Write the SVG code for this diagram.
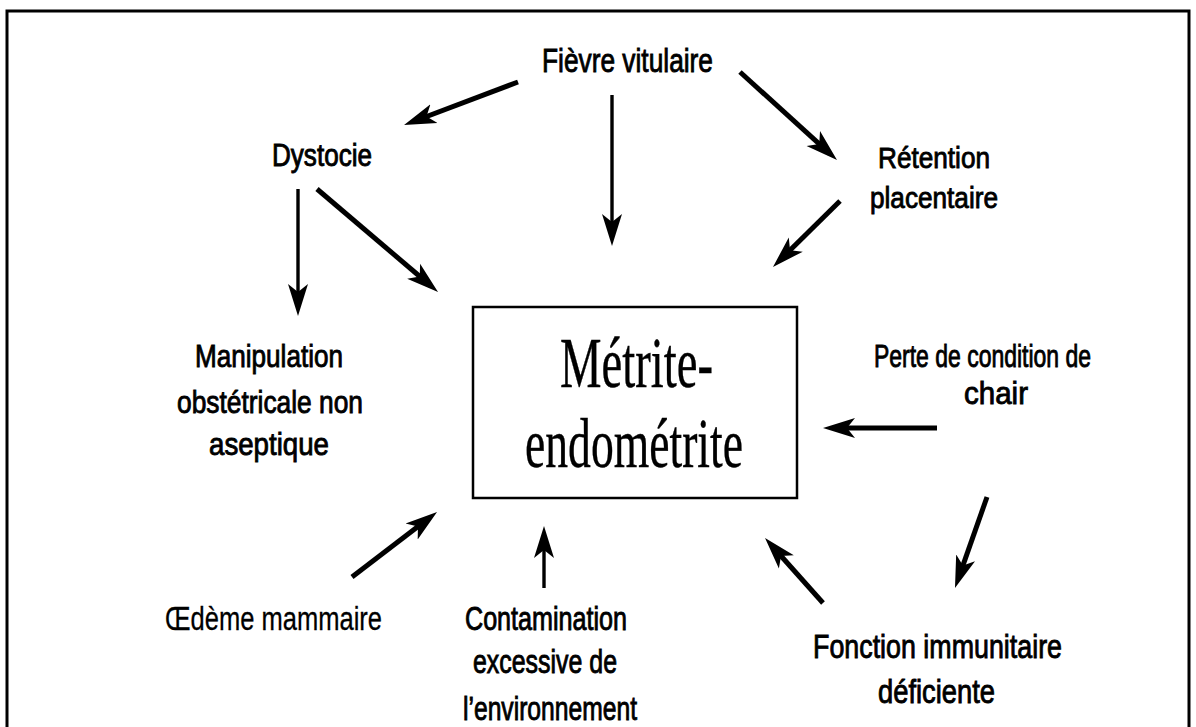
<svg xmlns="http://www.w3.org/2000/svg" width="1196" height="727" viewBox="0 0 1196 727">
<style>
.lbl{font-family:"Liberation Sans",Arial,sans-serif;fill:#000;stroke:#000;stroke-width:0.9}
.light{font-family:"Liberation Sans",Arial,sans-serif;fill:#000;stroke:#000;stroke-width:0.3}
.ser{font-family:"Liberation Serif","Times New Roman",serif;fill:#000;stroke:#000;stroke-width:0.4}
.arr{stroke:#000;stroke-width:5;fill:none;marker-end:url(#ah)}
.thin{stroke-width:3.4}
</style>
<defs>
<marker id="ah" viewBox="0 0 32 22" refX="22" refY="11" markerWidth="32" markerHeight="22" markerUnits="userSpaceOnUse" orient="auto">
<path d="M32,11 L0,1 L8,11 L0,21 Z" fill="#000"/>
</marker>
</defs>
<rect x="0" y="0" width="1196" height="727" fill="#fff"/>
<path d="M7,740 L7,11 L1189,11 L1189,740" fill="none" stroke="#000" stroke-width="3"/>

<g id="center">
<rect x="473" y="307" width="324" height="191" fill="#fff" stroke="#000" stroke-width="2.5"/>
<text class="ser" x="560" y="387" font-size="71" textLength="153" lengthAdjust="spacingAndGlyphs">Métrite-</text>
<text class="ser" x="525" y="467" font-size="69" textLength="218" lengthAdjust="spacingAndGlyphs">endométrite</text>
</g>
<g id="fievre"><text class="lbl" x="542" y="72" font-size="34" textLength="171" lengthAdjust="spacingAndGlyphs">Fièvre vitulaire</text></g>
<g id="dystocie"><text class="lbl" x="272" y="166" font-size="31" textLength="100" lengthAdjust="spacingAndGlyphs">Dystocie</text></g>
<g id="retention">
<text class="lbl" x="878" y="168" font-size="30" textLength="112" lengthAdjust="spacingAndGlyphs">Rétention</text>
<text class="lbl" x="870" y="208" font-size="30" textLength="128" lengthAdjust="spacingAndGlyphs">placentaire</text>
</g>
<g id="manipulation">
<text class="lbl" x="195" y="367" font-size="32" textLength="148" lengthAdjust="spacingAndGlyphs">Manipulation</text>
<text class="lbl" x="177" y="413" font-size="32" textLength="186" lengthAdjust="spacingAndGlyphs">obstétricale non</text>
<text class="lbl" x="209" y="455" font-size="32" textLength="120" lengthAdjust="spacingAndGlyphs">aseptique</text>
</g>
<g id="perte">
<text class="lbl" x="874" y="367" font-size="32" textLength="217" lengthAdjust="spacingAndGlyphs">Perte de condition de</text>
<text class="lbl" x="964" y="404" font-size="32" textLength="64" lengthAdjust="spacingAndGlyphs">chair</text>
</g>
<g id="oedeme"><text class="light" x="165" y="630" font-size="33" textLength="217" lengthAdjust="spacingAndGlyphs">Œdème mammaire</text></g>
<g id="contamination">
<text class="lbl" x="465" y="630" font-size="33" textLength="162" lengthAdjust="spacingAndGlyphs">Contamination</text>
<text class="lbl" x="473" y="673" font-size="33" textLength="144" lengthAdjust="spacingAndGlyphs">excessive de</text>
<text class="lbl" x="463" y="720" font-size="33" textLength="174" lengthAdjust="spacingAndGlyphs">l’environnement</text>
</g>
<g id="fonction">
<text class="lbl" x="813" y="658" font-size="33" textLength="249" lengthAdjust="spacingAndGlyphs">Fonction immunitaire</text>
<text class="lbl" x="878" y="703" font-size="33" textLength="117" lengthAdjust="spacingAndGlyphs">déficiente</text>
</g>

<g id="connectors">
<line class="arr" x1="518" y1="82" x2="413.4" y2="121.5"/>
<line class="arr thin" x1="612" y1="95" x2="612" y2="236"/>
<line class="arr" x1="740" y1="72" x2="829.6" y2="153.3"/>
<line class="arr" x1="840" y1="201" x2="780.1" y2="260"/>
<line class="arr thin" x1="298" y1="189" x2="298" y2="306"/>
<line class="arr" x1="317" y1="189" x2="430.4" y2="285.5"/>
<line class="arr" x1="937" y1="428" x2="833" y2="428"/>
<line class="arr" x1="987" y1="497" x2="958.3" y2="578.6"/>
<line class="arr" x1="823" y1="603" x2="771.7" y2="545.5"/>
<line class="arr" x1="352" y1="577" x2="429.1" y2="518.1"/>
<line class="arr thin" x1="544" y1="588" x2="544" y2="536"/>
</g>
</svg>
